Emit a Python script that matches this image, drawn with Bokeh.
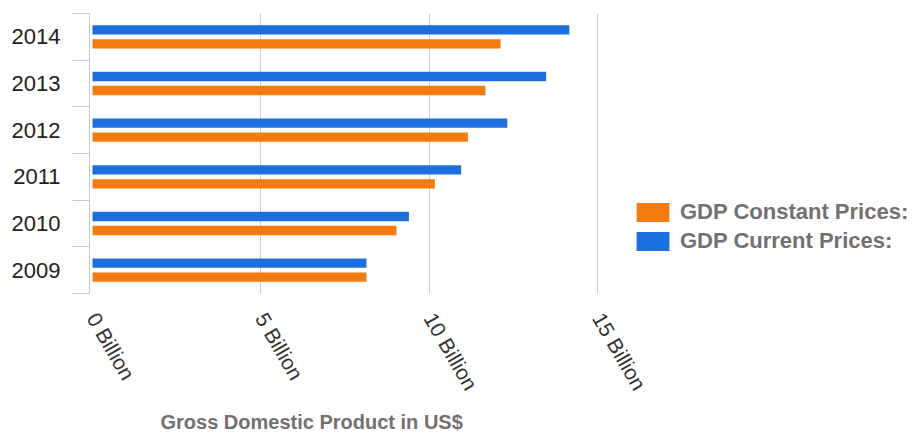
import numpy as np
from bokeh.plotting import figure
from bokeh.models import (ColumnDataSource, FixedTicker, Legend, LegendItem,
                          Title, Range1d)
from bokeh.transform import dodge
from bokeh.embed import file_html
from bokeh.resources import INLINE

# ---- data (billions of US$) ----
years = ["2009", "2010", "2011", "2012", "2013", "2014"]
gdp_current = [8.13, 9.39, 10.94, 12.31, 13.46, 14.15]
gdp_constant = [8.13, 9.02, 10.16, 11.14, 11.66, 12.11]
x_ticks = [0, 5, 10, 15]
x_tick_labels = ["0 Billion", "5 Billion", "10 Billion", "15 Billion"]
axis_title = "Gross Domestic Product in US$"
series_names = ["GDP Constant Prices:", "GDP Current Prices:"]

BLUE = "#1c6fdc"
ORANGE = "#f47b10"
FONT = "Liberation Sans"

pos = np.arange(len(years)) + 0.5
src = ColumnDataSource(dict(y=pos, year=years, cur=gdp_current, con=gdp_constant))

p = figure(width=922, height=439, output_backend="svg", toolbar_location=None,
           x_range=Range1d(-0.089, 24.63), y_range=Range1d(0, len(years)),
           min_border_left=89, min_border_top=13, min_border_bottom=146,
           min_border_right=0, outline_line_color=None)

r_cur = p.hbar(y=dodge("y", 0.15, range=p.y_range), right="cur", left=0, height=0.2,
               source=src, fill_color=BLUE, line_color=None)
r_con = p.hbar(y=dodge("y", -0.15, range=p.y_range), right="con", left=0, height=0.2,
               source=src, fill_color=ORANGE, line_color=None)

# y axis: labels at band centres, ticks at band boundaries
ya = p.yaxis[0]
ya.ticker = FixedTicker(ticks=list(pos), minor_ticks=list(range(len(years) + 1)))
ya.major_label_overrides = {float(v): t for v, t in zip(pos, years)}
ya.major_tick_line_color = None
ya.major_tick_out = 0
ya.major_tick_in = 0
ya.minor_tick_out = 17
ya.minor_tick_in = 0
ya.minor_tick_line_color = "#c3cad3"
ya.axis_line_color = "#c3cad3"
ya.major_label_standoff = 12
ya.major_label_text_font = FONT
ya.major_label_text_font_size = "22px"
ya.major_label_text_color = "#222222"

# x axis
xa = p.xaxis[0]
xa.ticker = FixedTicker(ticks=x_ticks)
xa.major_label_overrides = {v: t for v, t in zip(x_ticks, x_tick_labels)}
xa.axis_line_color = None
xa.major_tick_line_color = None
xa.minor_tick_line_color = None
xa.major_label_orientation = -1.047
xa.major_label_standoff = 15
xa.major_label_text_font = FONT
xa.major_label_text_font_size = "21px"
xa.major_label_text_color = "#333333"

p.ygrid.grid_line_color = None
p.xgrid.ticker = FixedTicker(ticks=x_ticks[1:])
p.xgrid.grid_line_color = "#cccccc"

t = Title(text=axis_title, align="left", offset=71, text_font=FONT,
          text_font_size="20px", text_font_style="bold", text_color="#717171",
          standoff=13)
p.add_layout(t, "below")

legend = Legend(items=[LegendItem(label=series_names[0], renderers=[r_con]),
                       LegendItem(label=series_names[1], renderers=[r_cur])],
                location=(543, 39), padding=0, margin=0, spacing=3,
                glyph_width=41, glyph_height=24, label_height=24,
                label_standoff=7, border_line_color=None,
                background_fill_alpha=0,
                label_text_font=FONT, label_text_font_size="22px",
                label_text_font_style="bold", label_text_color="#717171")
p.add_layout(legend)

open("out.html", "w").write(file_html(p, INLINE))
